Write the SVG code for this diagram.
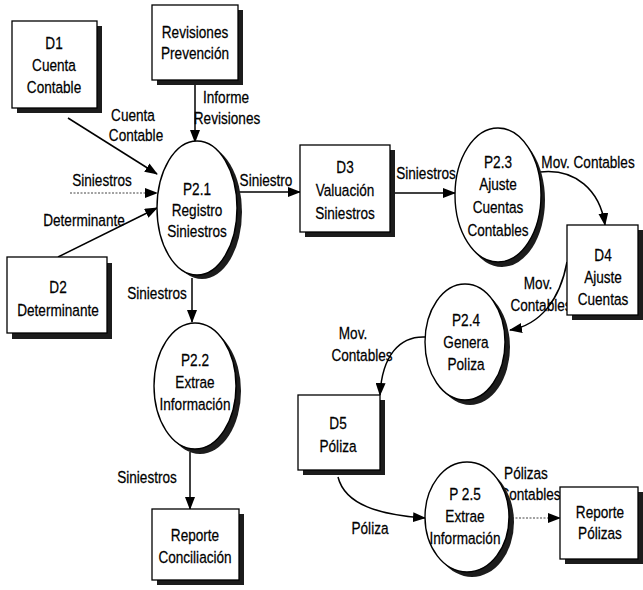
<svg xmlns="http://www.w3.org/2000/svg" width="643" height="590" viewBox="0 0 643 590">
<defs>
<marker id="ah" markerUnits="userSpaceOnUse" markerWidth="13" markerHeight="10" refX="12" refY="5" orient="auto">
<path d="M0,0 L13,5 L0,10 z" fill="#000"/>
</marker>
<style>
.bx{fill:#fff;stroke:#000;stroke-width:1.3}
.sh{fill:#1c1c1c}
.el{fill:#fff;stroke:#000;stroke-width:1.4}
.c{fill:none;stroke:#000;stroke-width:1.5;marker-end:url(#ah)}
.d{fill:none;stroke:#444;stroke-width:1;stroke-dasharray:2 1.5;marker-end:url(#ah)}
text{font-family:"Liberation Sans",Arial,sans-serif;font-size:17px;fill:#000;text-anchor:middle;stroke:#000;stroke-width:0.25}
</style>
</defs>
<rect width="643" height="590" fill="#fff"/>

<g id="connectors">
<path class="c" d="M68,118 L157,174"/>
<path class="d" d="M70,193 L157,193"/>
<path class="c" d="M58,257 L157,208"/>
<path class="c" d="M195,82 L195,142"/>
<path class="c" d="M237,192 L300,192"/>
<path class="c" d="M192,278 L192,322"/>
<path class="c" d="M190,452 L190,509"/>
<path class="c" d="M395,193 L455,193"/>
<path class="c" d="M540,172 C575,168 600,190 605,225"/>
<path class="c" d="M567,262 C560,300 540,325 510,330"/>
<path class="c" d="M425,337 C400,336 382,355 380,395"/>
<path class="c" d="M338,477 C345,505 380,515 425,518"/>
<path class="d" d="M512,518 L560,518"/>
<g id="labels">
<text transform="translate(133,121) scale(0.8,1)">Cuenta</text>
<text transform="translate(136,141) scale(0.8,1)">Contable</text>
<text transform="translate(226,103) scale(0.8,1)">Informe</text>
<text transform="translate(227,124) scale(0.8,1)">Revisiones</text>
<text transform="translate(102,186) scale(0.8,1)">Siniestros</text>
<text transform="translate(84,226) scale(0.8,1)">Determinante</text>
<text transform="translate(266,186) scale(0.8,1)">Siniestro</text>
<text transform="translate(157,299) scale(0.8,1)">Siniestros</text>
<text transform="translate(147,483) scale(0.8,1)">Siniestros</text>
<text transform="translate(426,179) scale(0.8,1)">Siniestros</text>
<text transform="translate(588,168) scale(0.8,1)">Mov. Contables</text>
<text transform="translate(538,289) scale(0.8,1)">Mov.</text>
<text transform="translate(541,311) scale(0.8,1)">Contables</text>
<text transform="translate(353,339) scale(0.8,1)">Mov.</text>
<text transform="translate(362,361) scale(0.8,1)">Contables</text>
<text transform="translate(370,534) scale(0.8,1)">Póliza</text>
<text transform="translate(526,479) scale(0.8,1)">Pólizas</text>
<text transform="translate(530,500) scale(0.8,1)">Contables</text>
</g>
</g>

<g id="D1">
<rect class="sh" x="17" y="26" width="85" height="87"/>
<rect class="bx" x="12" y="21" width="85" height="87"/>
<text transform="translate(54,49) scale(0.8,1)">D1</text>
<text transform="translate(54,71) scale(0.8,1)">Cuenta</text>
<text transform="translate(54,93) scale(0.8,1)">Contable</text>
</g>

<g id="revisiones">
<rect class="sh" x="157" y="10" width="86" height="75"/>
<rect class="bx" x="152" y="5" width="86" height="75"/>
<text transform="translate(195,38) scale(0.8,1)">Revisiones</text>
<text transform="translate(195,59) scale(0.8,1)">Prevención</text>
</g>

<g id="P2_1">
<ellipse class="sh" cx="202" cy="212" rx="40" ry="67"/>
<ellipse class="el" cx="197" cy="208" rx="40" ry="67"/>
<text transform="translate(197,195) scale(0.8,1)">P2.1</text>
<text transform="translate(197,216) scale(0.8,1)">Registro</text>
<text transform="translate(197,237) scale(0.8,1)">Siniestros</text>
</g>

<g id="D2">
<rect class="sh" x="12" y="263" width="100" height="76"/>
<rect class="bx" x="7" y="257" width="100" height="76"/>
<text transform="translate(58,293) scale(0.8,1)">D2</text>
<text transform="translate(58,316) scale(0.8,1)">Determinante</text>
</g>

<g id="D3">
<rect class="sh" x="305" y="150" width="90" height="87"/>
<rect class="bx" x="300" y="145" width="90" height="87"/>
<text transform="translate(345,173) scale(0.8,1)">D3</text>
<text transform="translate(345,196) scale(0.8,1)">Valuación</text>
<text transform="translate(345,219) scale(0.8,1)">Siniestros</text>
</g>

<g id="P2_3">
<ellipse class="sh" cx="502" cy="200" rx="43" ry="67"/>
<ellipse class="el" cx="498" cy="195" rx="43" ry="67"/>
<text transform="translate(498,168) scale(0.8,1)">P2.3</text>
<text transform="translate(498,190) scale(0.8,1)">Ajuste</text>
<text transform="translate(498,213) scale(0.8,1)">Cuentas</text>
<text transform="translate(498,236) scale(0.8,1)">Contables</text>
</g>

<g id="D4">
<rect class="sh" x="572" y="230" width="71" height="90"/>
<rect class="bx" x="567" y="225" width="71" height="90"/>
<text transform="translate(603,261) scale(0.8,1)">D4</text>
<text transform="translate(603,283) scale(0.8,1)">Ajuste</text>
<text transform="translate(603,305) scale(0.8,1)">Cuentas</text>
</g>

<g id="P2_4">
<ellipse class="sh" cx="470" cy="347" rx="40" ry="58"/>
<ellipse class="el" cx="465" cy="342" rx="40" ry="58"/>
<text transform="translate(466,326) scale(0.8,1)">P2.4</text>
<text transform="translate(466,348) scale(0.8,1)">Genera</text>
<text transform="translate(466,370) scale(0.8,1)">Poliza</text>
</g>

<g id="D5">
<rect class="sh" x="303" y="400" width="82" height="75"/>
<rect class="bx" x="298" y="395" width="82" height="75"/>
<text transform="translate(338,429) scale(0.8,1)">D5</text>
<text transform="translate(338,452) scale(0.8,1)">Póliza</text>
</g>

<g id="P2_2">
<ellipse class="sh" cx="200" cy="391" rx="41" ry="63"/>
<ellipse class="el" cx="195" cy="386" rx="41" ry="63"/>
<text transform="translate(195,366) scale(0.8,1)">P2.2</text>
<text transform="translate(195,388) scale(0.8,1)">Extrae</text>
<text transform="translate(195,410) scale(0.8,1)">Información</text>
</g>

<g id="reporte_conciliacion">
<rect class="sh" x="157" y="514" width="87" height="71"/>
<rect class="bx" x="152" y="509" width="87" height="71"/>
<text transform="translate(195,541) scale(0.8,1)">Reporte</text>
<text transform="translate(195,563) scale(0.8,1)">Conciliación</text>
</g>

<g id="P2_5">
<ellipse class="sh" cx="472" cy="522" rx="42" ry="55"/>
<ellipse class="el" cx="467" cy="517" rx="42" ry="55"/>
<text transform="translate(465,500) scale(0.8,1)">P 2.5</text>
<text transform="translate(465,522) scale(0.8,1)">Extrae</text>
<text transform="translate(465,544) scale(0.8,1)">Información</text>
</g>

<g id="reporte_polizas">
<rect class="sh" x="565" y="492" width="78" height="72"/>
<rect class="bx" x="560" y="487" width="78" height="72"/>
<text transform="translate(600,518) scale(0.8,1)">Reporte</text>
<text transform="translate(600,539) scale(0.8,1)">Pólizas</text>
</g>
</svg>
